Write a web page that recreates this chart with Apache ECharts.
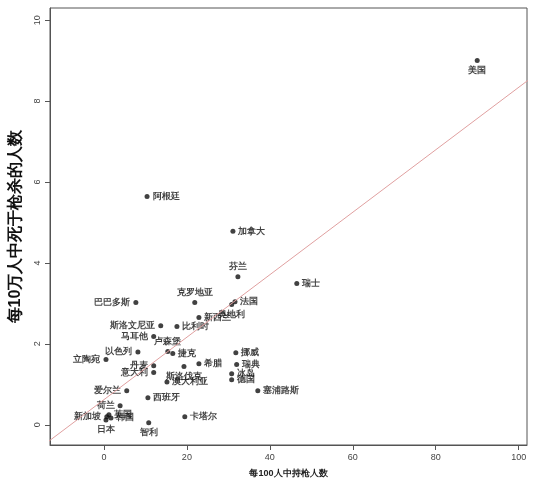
<!DOCTYPE html>
<html><head><meta charset="utf-8">
<script src="https://cdn.jsdelivr.net/npm/echarts@6/dist/echarts.min.js"></script>
<style>html,body{margin:0;background:#fff}#c{width:550px;height:486px}</style>
</head><body><div id="c"></div>
<script>
// 国家, 每100人持枪数, 每10万人枪杀死亡数
var countries = ['美国','阿根廷','加拿大','芬兰','瑞士','巴巴多斯','克罗地亚','法国','奥地利','新西兰','斯洛文尼亚','比利时','马耳他','卢森堡','捷克','以色列','立陶宛','丹麦','意大利','希腊','斯洛伐克','澳大利亚','挪威','瑞典','冰岛','德国','塞浦路斯','爱尔兰','西班牙','荷兰','新加坡','英国','韩国','日本','智利','卡塔尔'];
var guns   = [90.0,10.4,31.1,32.3,46.5,7.7,21.9,31.6,30.8,22.9,13.7,17.6,12.0,15.4,16.6,8.2,0.5,12.0,12.0,22.9,19.3,15.2,31.8,32.0,30.8,30.8,37.1,5.5,10.6,3.9,0.7,1.2,1.7,0.5,10.8,19.5];
var deaths = [9.0,5.64,4.78,3.66,3.49,3.02,3.02,3.04,2.97,2.65,2.45,2.43,2.18,1.81,1.76,1.8,1.61,1.46,1.29,1.51,1.44,1.06,1.78,1.49,1.26,1.11,0.84,0.84,0.67,0.47,0.2,0.25,0.17,0.12,0.05,0.2];
var xTicks = [0, 20, 40, 60, 80, 100];
var yTicks = [0, 2, 4, 6, 8, 10];
// label placement per country
var labelPos = {'美国':'bottom','立陶宛':'left','巴巴多斯':'left','斯洛文尼亚':'left','马耳他':'left','以色列':'left','丹麦':'left','意大利':'left','爱尔兰':'left','新加坡':'left','日本':'bottom','智利':'bottom','芬兰':'top','卢森堡':'top','克罗地亚':'top','斯洛伐克':'bottom','荷兰':'left','奥地利':'bottom'};
// 回归线系数
var lineIntercept = 0.62, lineSlope = 0.0772, lineX = [-20, 110];

var pts = countries.map(function (n, i) {
    return {name: n, value: [guns[i], deaths[i]],
        label: {position: labelPos[n] || 'right'}};
});

var chart = echarts.init(document.getElementById('c'));
chart.setOption({
    animation: false,
    grid: {left: 48, right: 23, top: 8, bottom: 41},
    xAxis: {
        type: 'value', min: -13, max: 102,
        name: '每100人中持枪人数', nameLocation: 'middle', nameGap: 24,
        nameTextStyle: {fontSize: 9, fontWeight: 'bold', color: '#222'},
        axisLine: {show: true, onZero: false, lineStyle: {color: '#555'}},
        axisTick: {show: true, customValues: xTicks, lineStyle: {color: '#555'}},
        axisLabel: {fontSize: 9, color: '#444', customValues: xTicks},
        splitLine: {show: false}
    },
    yAxis: {
        type: 'value', min: -0.5, max: 10.3,
        name: '每10万人中死于枪杀的人数', nameLocation: 'middle', nameGap: 26,
        nameTextStyle: {fontSize: 16, fontWeight: 'bold', color: '#111'},
        axisLine: {show: true, onZero: false, lineStyle: {color: '#555'}},
        axisTick: {show: true, customValues: yTicks, lineStyle: {color: '#555'}},
        axisLabel: {fontSize: 9, color: '#444', rotate: 90, customValues: yTicks},
        splitLine: {show: false}
    },
    series: [{
        type: 'line', silent: true, symbol: 'none',
        data: lineX.map(function (x) { return [x, lineIntercept + lineSlope * x]; }),
        lineStyle: {color: '#e0a0a0', width: 1},
        clip: true
    }, {
        type: 'scatter', symbolSize: 5,
        itemStyle: {color: '#111'},
        label: {show: true, formatter: '{b}', fontSize: 9, fontWeight: 'bold',
            color: '#111', distance: 3},
        data: pts
    }, {
        type: 'line', silent: true, symbol: 'none', data: [],
        markArea: {silent: true, itemStyle: {color: 'transparent', borderColor: '#555', borderWidth: 1},
            data: [[{coord: [-13, -0.5]}, {coord: [102, 10.3]}]]}
    }]
});
</script></body></html>
